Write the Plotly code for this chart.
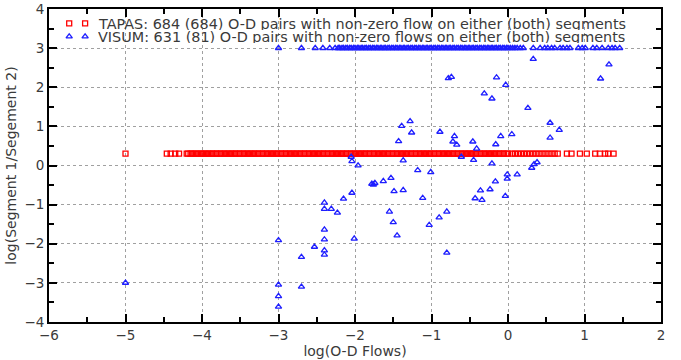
import plotly.graph_objects as go

# TAPAS: every O-D pair sits at log(2) on the y axis
tapas_ratio = 0.301
tapas_x = [-5.0, -4.46, -4.41, -4.35, -4.30,
           -4.20, -4.18, -4.15, -4.13, -4.10, -4.08, -4.05, -4.02, -4.00, -3.97, -3.95, -3.92,
           -3.90, -3.87, -3.85, -3.82, -3.80, -3.77, -3.75, -3.72, -3.70, -3.67, -3.65, -3.62,
           -3.60, -3.57, -3.55, -3.52, -3.50, -3.47, -3.45, -3.42, -3.40, -3.37, -3.35, -3.32,
           -3.30, -3.27, -3.25, -3.22, -3.20, -3.17, -3.15, -3.12, -3.10, -3.07, -3.05, -3.02,
           -3.00, -2.97, -2.95, -2.92, -2.90, -2.87, -2.85, -2.82, -2.80, -2.77, -2.75, -2.72,
           -2.70, -2.67, -2.65, -2.62, -2.60, -2.57, -2.55, -2.52, -2.50, -2.47, -2.45, -2.42,
           -2.40, -2.37, -2.35, -2.32, -2.30, -2.27, -2.25, -2.22, -2.20, -2.17, -2.15, -2.12,
           -2.10, -2.07, -2.05, -2.02, -2.00, -1.97, -1.95, -1.92, -1.90, -1.87, -1.85, -1.82,
           -1.80, -1.77, -1.75, -1.72, -1.70, -1.67, -1.65, -1.62, -1.60, -1.57, -1.55, -1.52,
           -1.50, -1.47, -1.45, -1.42, -1.40, -1.37, -1.35, -1.32, -1.30, -1.27, -1.25, -1.22,
           -1.20, -1.17, -1.15, -1.12, -1.10, -1.07, -1.05, -1.02, -1.00, -0.97, -0.95, -0.92,
           -0.90, -0.87, -0.85, -0.82, -0.80, -0.77, -0.75, -0.72, -0.70, -0.67, -0.65, -0.62,
           -0.60, -0.57, -0.55, -0.52, -0.50, -0.47, -0.45, -0.42, -0.40, -0.37, -0.35, -0.32,
           -0.30, -0.27, -0.25, -0.22, -0.20, -0.17, -0.15, -0.12, -0.10, -0.07, -0.05, -0.02,
           0.00, 0.05, 0.09, 0.13, 0.17, 0.21, 0.25, 0.29, 0.33, 0.37, 0.41, 0.45, 0.49, 0.53,
           0.57, 0.61, 0.65, 0.77, 0.83, 0.94, 1.03, 1.14, 1.20, 1.27, 1.31, 1.38]
tapas_y = [tapas_ratio] * len(tapas_x)

# VISUM: pairs with flow on one segment only are clipped at 3
visum_top = 3.0
visum_top_x = [-3.0, -2.70, -2.52, -2.42, -2.33, -2.26, -2.22,
               -2.20, -2.17, -2.15, -2.12, -2.10, -2.07, -2.05, -2.02, -2.00, -1.97, -1.95,
               -1.92, -1.90, -1.87, -1.85, -1.82, -1.80, -1.77, -1.75, -1.72, -1.70, -1.67,
               -1.65, -1.62, -1.60, -1.57, -1.55, -1.52, -1.50, -1.47, -1.45, -1.42, -1.40,
               -1.37, -1.35, -1.32, -1.30, -1.27, -1.25, -1.22, -1.20, -1.17, -1.15, -1.12,
               -1.10, -1.07, -1.05, -1.02, -1.00, -0.97, -0.95, -0.92, -0.90, -0.87, -0.85,
               -0.82, -0.80, -0.77, -0.75, -0.72, -0.70, -0.67, -0.65, -0.62, -0.60, -0.57,
               -0.55, -0.52, -0.50, -0.47, -0.45, -0.42, -0.40, -0.37, -0.35, -0.32, -0.30,
               -0.27, -0.25, -0.22, -0.20, -0.17, -0.15, -0.12, -0.10, -0.07, -0.05, -0.02,
               0.00, 0.03, 0.06, 0.09, 0.12, 0.16, 0.20,
               0.33, 0.42, 0.48, 0.52, 0.57, 0.61, 0.68, 0.72, 0.77, 0.81, 0.92, 0.97, 1.01,
               1.11, 1.16, 1.23, 1.31, 1.36, 1.40, 1.46]

visum_x = [-5.0, -3.0, -3.0, -3.0, -3.0, -2.70, -2.70, -2.53,
           -2.40, -2.40, -2.40, -2.40, -2.40, -2.40, -2.31, -2.23,
           -2.15, -2.04, -2.01, -2.05, -2.04, -1.96,
           -1.76, -1.78, -1.74, -1.63, -1.53, -1.49, -1.37, -1.115,
           -1.55, -1.50, -1.45, -1.39, -1.28, -1.26, -1.43,
           -1.37, -1.18, -1.01, -1.03, -0.90, -0.80, -0.80,
           -0.89, -0.70, -0.72, -0.67, -0.46, -0.41, -0.095, -0.16, 0.05,
           -0.61, -0.45, -0.21, 0.31, 0.34, 0.38,
           -0.01, 0.12, -0.01, -0.165, -0.36, -0.235, -0.43, -0.34, -0.035,
           -0.78, -0.74, -0.15, -0.03, 0.33, -0.31, -0.21, 0.26,
           1.32, 1.21, 0.55, 0.67, 0.55]
visum_y = [-3.0, -1.91, -3.05, -3.34, -3.61, -2.34, -3.10, -2.08,
           -0.95, -1.11, -1.64, -1.89, -2.17, -2.28, -1.11, -1.21,
           -0.85, -0.70, -1.87, 0.22, 0.11, 0.0,
           -0.49, -0.47, -0.45, -0.40, -0.32, -0.66, -0.63, -0.83,
           -1.18, -1.45, -1.79, 1.01, 1.13, 0.84, 0.62,
           0.13, -0.12, -0.17, -1.52, -1.33, -1.18, -2.23,
           0.86, 0.75, 0.61, 0.53, 0.61, 0.43, 0.75, 0.54, 0.80,
           0.22, 0.14, 0.05, -0.06, 0.03, 0.08,
           -0.23, -0.23, -0.34, -0.41, -0.64, -0.61, -0.84, -0.88, -0.78,
           2.23, 2.26, 2.25, 2.06, 2.72, 1.84, 1.71, 1.47,
           2.58, 2.22, 1.09, 0.91, 0.71]

visum_all_x = visum_top_x + visum_x
visum_all_y = [visum_top] * len(visum_top_x) + visum_y

labels = ['TAPAS: 684 (684) O-D pairs with non-zero flow on either (both) segments',
          'VISUM: 631 (81) O-D pairs with non-zero flows on either (both) segments']

red = 'rgb(255,0,0)'
blue = 'rgb(30,30,255)'
square = dict(symbol='square-open', size=5, color=red, line=dict(width=1.3))
triangle = dict(symbol='triangle-up-open', size=5.5, color=blue, line=dict(width=1.3))

fig = go.Figure()
fig.add_trace(go.Scatter(x=tapas_x, y=tapas_y, mode='markers', name=labels[0],
                         marker=square, showlegend=False))
fig.add_trace(go.Scatter(x=visum_all_x, y=visum_all_y, mode='markers', name=labels[1],
                         marker=triangle, showlegend=False))

# gnuplot-style key: two sample points per entry, drawn on a hidden 0..1 overlay
key_x = [0.033, 0.059]
key_y = [0.954, 0.912]
fig.add_trace(go.Scatter(x=key_x, y=[key_y[0]] * 2, mode='markers', marker=square,
                         xaxis='x2', yaxis='y2', showlegend=False, hoverinfo='skip'))
fig.add_trace(go.Scatter(x=key_x, y=[key_y[1]] * 2, mode='markers', marker=triangle,
                         xaxis='x2', yaxis='y2', showlegend=False, hoverinfo='skip'))
for lab, ky in zip(labels, key_y):
    fig.add_annotation(text=lab, xref='paper', yref='paper', x=0.077, y=ky,
                       xanchor='left', yanchor='middle', showarrow=False, height=13,
                       font=dict(family='DejaVu Sans', size=14.4, color='#3a3a3a'))

txt = dict(family='DejaVu Sans', size=13.5, color='#3a3a3a')
axis_common = dict(
    showline=True, linecolor='black', linewidth=2, mirror='ticks',
    ticks='inside', ticklen=8, tickwidth=2, tickcolor='black',
    showgrid=True, gridcolor='#a0a0a0', griddash='dot', gridwidth=1,
    zeroline=False, tickfont=txt, automargin=False,
    minor=dict(ticks='inside', ticklen=5, tickwidth=2, tickcolor='black', dtick=0.5, showgrid=False),
)

fig.update_layout(
    width=681, height=360,
    margin=dict(l=49, r=20, t=9, b=38),
    paper_bgcolor='white', plot_bgcolor='white',
    showlegend=False,
    xaxis=dict(range=[-6, 2], dtick=1, tick0=-6,
               title=dict(text='log(O-D Flows)', standoff=0,
                          font=dict(family='DejaVu Sans', size=14, color='#3a3a3a')),
               **axis_common),
    yaxis=dict(range=[-4, 4], dtick=1, tick0=-4,
               title=dict(text='log(Segment 1/Segement 2)', standoff=4,
                          font=dict(family='DejaVu Sans', size=14, color='#3a3a3a')),
               **axis_common),
    xaxis2=dict(overlaying='x', range=[0, 1], visible=False),
    yaxis2=dict(overlaying='y', range=[0, 1], visible=False),
)

fig.write_html("out.html", config={'displayModeBar': False},
               post_script="document.body.style.margin='0';")
